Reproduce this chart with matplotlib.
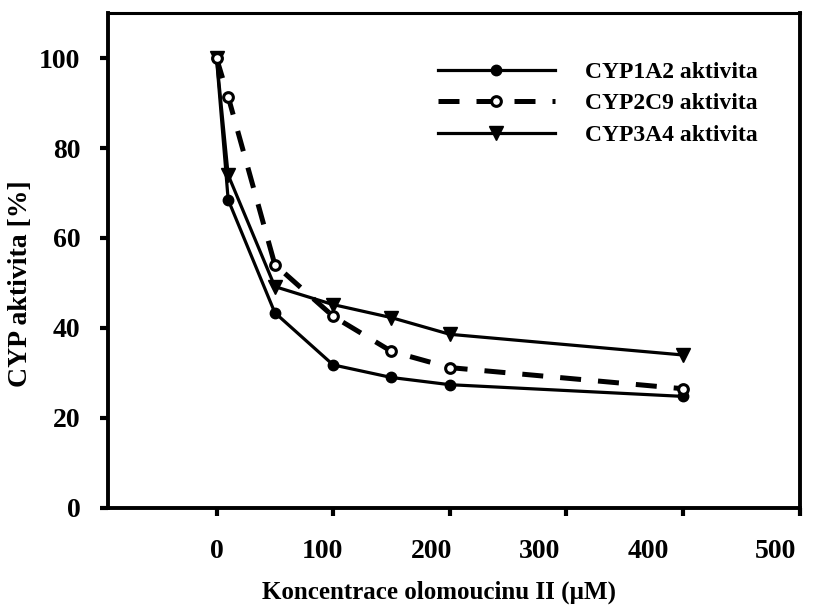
import numpy as np
import matplotlib.pyplot as plt

# olomoucine II concentration (uM) and remaining CYP activity (%)
conc = [0, 10, 50, 100, 150, 200, 400]
cyp1a2 = [100, 68.5, 43.4, 31.8, 29.0, 27.4, 24.8]
cyp2c9 = [100, 91.4, 54.1, 42.6, 34.8, 31.2, 26.5]
cyp3a4 = [100, 74.0, 49.2, 45.2, 42.3, 38.6, 34.0]

xticks = [0, 100, 200, 300, 400, 500]
xtick_labels = ['0', '100', '200', '300', '400', '500']
# label positions drift away from the tick marks in the original export
xlabel_pos = [0, 91, 184, 277, 370, 479]
yticks = [0, 20, 40, 60, 80, 100]

plt.rcParams['font.family'] = ['Liberation Serif', 'DejaVu Serif']
plt.rcParams['font.weight'] = 'bold'

fig = plt.figure(figsize=(8.16, 6.08), dpi=100)
ax = fig.add_axes([0.1324, 0.1645, 0.8476, 0.8141])

lw = 2.3
ax.plot(conc, cyp1a2, color='black', lw=lw, marker='o', ms=7.5,
        label='CYP1A2 aktivita', zorder=3)
ax.plot(conc, cyp2c9, color='black', lw=3.6, ls=(0, (4.2, 3.4)), marker='o', ms=7,
        mfc='white', mec='black', mew=2.2, label='CYP2C9 aktivita', zorder=4)
ax.plot(conc, cyp3a4, color='black', lw=lw, marker='v', ms=10.5,
        label='CYP3A4 aktivita', zorder=3)

ax.set_xlim(-93, 500)
ax.set_ylim(0, 110)

ax.xaxis.remove_overlapping_locs = False
ax.set_xticks(xticks)
ax.set_xticklabels([''] * len(xticks))
ax.set_xticks(xlabel_pos, minor=True)
ax.set_xticklabels(xtick_labels, minor=True)
ax.tick_params(axis='x', which='major', direction='out', length=6, width=3)
ax.tick_params(axis='x', which='minor', length=0, pad=22, labelsize=20)

ax.set_yticks(yticks)
ax.tick_params(axis='y', direction='out', length=6, width=3, pad=14, labelsize=20)

for side in ['left', 'bottom', 'right']:
    ax.spines[side].set_linewidth(2.8)
ax.spines['top'].set_linewidth(2.2)

ax.set_xlabel('Koncentrace olomoucinu II (µM)', fontsize=18, fontweight='bold', va='center')
ax.xaxis.set_label_coords(0.478, -0.170)
ax.set_ylabel('CYP aktivita [%]', fontsize=20, fontweight='bold', va='center')
ax.yaxis.set_label_coords(-0.127, 0.4525)

ax.legend(loc='upper left', bbox_to_anchor=(0.446, 0.945), frameon=False,
          handlelength=4.95, handletextpad=1.27, labelspacing=0.42, numpoints=1,
          prop={'weight': 'bold', 'size': 17})

fig.savefig('out.png', dpi=100)
